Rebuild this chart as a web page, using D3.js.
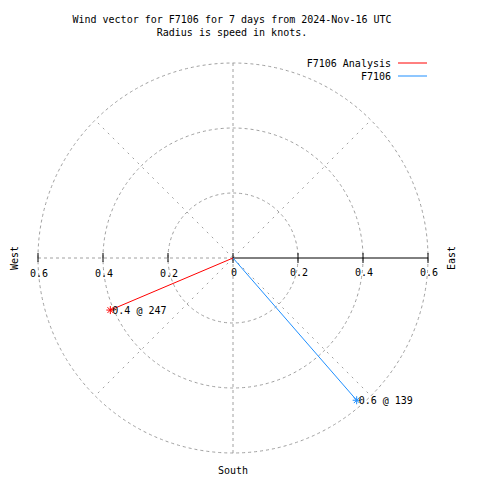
<!DOCTYPE html>
<html><head><meta charset="utf-8">
<script src="https://cdn.jsdelivr.net/npm/d3@7"></script>
<style>body{margin:0;background:#fff}text{font-family:"DejaVu Sans Mono",monospace;font-size:10px;fill:#000}</style>
</head><body><svg id="c" width="480" height="480"></svg>
<script>
const titleLines = ["Wind vector for F7106 for 7 days from 2024-Nov-16 UTC", "Radius is speed in knots."];
const seriesNames = ["F7106 Analysis", "F7106"];
const seriesColors = ["#ff0000", "#1e8fff"];
const speeds = [0.41, 0.58];
const directions = [247, 139];
const rTicks = [0, 0.2, 0.4, 0.6];
const gridAngles = [0, 45, 90, 135, 180, 225, 270, 315];
const compass = ["West", "East", "South"];

const svg = d3.select("#c");
const cx = 233, cy = 258;
const r = d3.scaleLinear().domain([0, 0.6]).range([0, 195]);
const pt = (spd, deg) => { const a = deg * Math.PI / 180; return [cx + r(spd) * Math.sin(a), cy - r(spd) * Math.cos(a)]; };
const grid = "#a0a0a0";

svg.selectAll("text.title").data(titleLines).enter().append("text")
  .attr("x", 232).attr("y", (d, i) => 23 + i * 13).attr("text-anchor", "middle").text(d => d);

svg.selectAll("circle.g").data(rTicks.filter(d => d > 0)).enter().append("circle")
  .attr("cx", cx).attr("cy", cy).attr("r", d => r(d)).attr("fill", "none")
  .attr("stroke", grid).attr("stroke-dasharray", "3,3");
svg.selectAll("line.rad").data(gridAngles.filter(a => a !== 90)).enter().append("line")
  .attr("x1", cx).attr("y1", cy)
  .attr("x2", d => pt(0.6, d)[0]).attr("y2", d => pt(0.6, d)[1])
  .attr("stroke", grid).attr("stroke-dasharray", d => d % 90 === 0 ? "3,3" : "2,5");

svg.append("line").attr("x1", cx).attr("y1", cy).attr("x2", cx + r(0.6)).attr("y2", cy).attr("stroke", "#000");
svg.selectAll("line.tr").data(rTicks).enter().append("line")
  .attr("x1", d => cx + r(d)).attr("x2", d => cx + r(d)).attr("y1", cy - 5).attr("y2", cy + 5).attr("stroke", "#000");
svg.selectAll("line.tl").data(rTicks.filter(d => d > 0)).enter().append("line")
  .attr("x1", d => cx - r(d)).attr("x2", d => cx - r(d)).attr("y1", cy - 5).attr("y2", cy + 4).attr("stroke", "#000");

const fmt = d => d === 0 ? "0" : d3.format(".1f")(d);
svg.selectAll("text.tl").data(rTicks.filter(d => d > 0)).enter().append("text")
  .attr("x", d => cx - r(d) + 1).attr("y", 277).attr("text-anchor", "middle").text(fmt);
svg.selectAll("text.tr").data(rTicks).enter().append("text")
  .attr("x", d => cx + r(d) + 1).attr("y", 276).attr("text-anchor", "middle").text(fmt);

svg.append("text").attr("transform", "translate(18,258) rotate(-90)").attr("text-anchor", "middle").text(compass[0]);
svg.append("text").attr("transform", "translate(455,258) rotate(-90)").attr("text-anchor", "middle").text(compass[1]);
svg.append("text").attr("x", 233).attr("y", 474).attr("text-anchor", "middle").text(compass[2]);

speeds.forEach((s, i) => {
  const [x, y] = pt(s, directions[i]);
  svg.append("line").attr("x1", cx).attr("y1", cy).attr("x2", x).attr("y2", y).attr("stroke", seriesColors[i]);
  const g = svg.append("g").attr("transform", `translate(${x},${y})`).attr("stroke", seriesColors[i]);
  [0, 45, 90, 135].forEach(a => {
    const t = a * Math.PI / 180;
    g.append("line").attr("x1", -4 * Math.cos(t)).attr("y1", -4 * Math.sin(t)).attr("x2", 4 * Math.cos(t)).attr("y2", 4 * Math.sin(t));
  });
  svg.append("text").attr("x", x + 2).attr("y", y + 4).text(`${d3.format(".1f")(s)} @ ${directions[i]}`);
});

seriesNames.forEach((n, i) => {
  svg.append("text").attr("x", 391).attr("y", 67 + i * 13).attr("text-anchor", "end").text(n);
  svg.append("line").attr("x1", 398).attr("x2", 427).attr("y1", 63 + i * 13).attr("y2", 63 + i * 13).attr("stroke", seriesColors[i]);
});
</script></body></html>
